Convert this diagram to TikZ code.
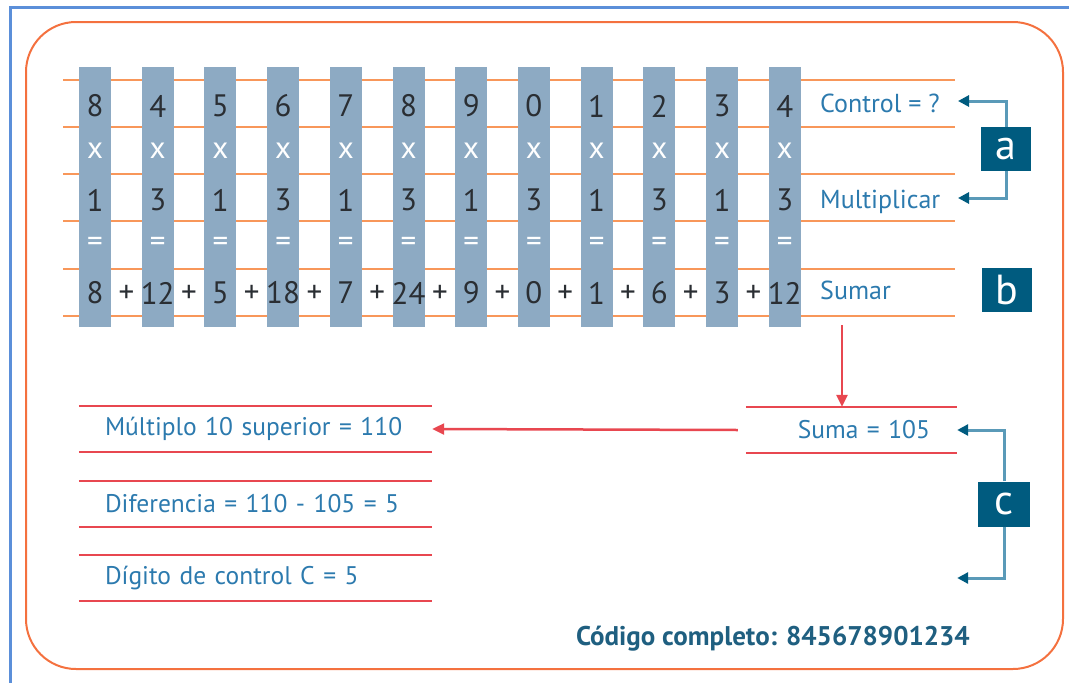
\documentclass[tikz,border=0pt]{standalone}
\usepackage{fontspec}
\setmainfont{PT Sans}
\usetikzlibrary{arrows.meta}

\definecolor{frameblue}{HTML}{5B8FD9}
\definecolor{boxorange}{HTML}{F4713F}
\definecolor{lineorange}{HTML}{F8975A}
\definecolor{barblue}{HTML}{8DAAC3}
\definecolor{darkteal}{HTML}{005B7F}
\definecolor{lightteal}{HTML}{5A9AB8}
\definecolor{labelblue}{HTML}{2C7AAE}
\definecolor{redline}{HTML}{E84750}
\definecolor{digitgray}{HTML}{2A2E33}
\definecolor{codeteal}{HTML}{1F5F80}

\begin{document}
\begin{tikzpicture}[x=1pt,y=-1pt]
        \tikzstyle{every node} = [rectangle, inner sep=0pt, font=\fontsize{26}{30}\selectfont]
        \tikzstyle{digitbar} = [fill=barblue, minimum width=32pt, minimum height=260pt]
        \tikzstyle{digit} = [text=digitgray, font=\fontsize{31}{32}\selectfont]
        \tikzstyle{whitesign} = [text=white, font=\fontsize{31}{32}\selectfont]
        \tikzstyle{rowlabel} = [text=labelblue, anchor=base west]
        \tikzstyle{letterbox} = [fill=darkteal, text=white, minimum width=50pt, minimum height=44pt, font=\fontsize{42}{42}\selectfont]
        \tikzstyle{rowbox} = [text=labelblue, minimum height=46pt, inner xsep=26pt, font=\fontsize{25.5}{30}\selectfont]
        \tikzstyle{tealarrow} = [draw=lightteal, line width=3pt, -{Triangle[length=11pt,width=11pt,color=darkteal]}]
        \tikzstyle{redarrow} = [draw=redline, line width=2.5pt, -{Triangle[length=12pt,width=11pt]}]
        \tikzstyle{redrule} = [draw=redline, line width=2.5pt]
        \useasboundingbox (0,0) rectangle (1069,683);

        % frame and outline
        \draw[frameblue, line width=3pt] (10,683) -- (10,7) -- (1069,7);
        \draw[boxorange, line width=2pt, rounded corners=50pt] (26,22) rectangle (1063,669);

        % ruled lines under the bars
        \foreach \y in {80,127,174,221,269,316}
            \draw[lineorange, line width=2pt] (63,\y) -- (955,\y);

        % digit bars
        \foreach \d/\m/\s [count=\i] in {8/1/8, 4/3/12, 5/1/5, 6/3/18, 7/1/7, 8/3/24, 9/1/9, 0/3/0, 1/1/1, 2/3/6, 3/1/3, 4/3/12} {
            \node[digitbar] (bar\i) at ({32.3+62.7*\i},197) {};
            \node[digit] (d\i) at (bar\i |- 0,106) {\d};
            \node[whitesign] (x\i) at (bar\i |- 0,151) {x};
            \node[digit] (m\i) at (bar\i |- 0,200) {\m};
            \node[whitesign] (e\i) at (bar\i |- 0,244) {=};
            \node[digit] (s\i) at (bar\i |- 0,293) {\s};
        }
        \foreach \i in {1,...,11}
            \node[digit] (p\i) at ({63.65+62.7*\i},294) {+};

        \node[rowlabel] (ctl) at (820,112) {Control = ?};
        \node[rowlabel] (mul) at (820,208) {Multiplicar};
        \node[rowlabel] (sum) at (820,299) {Sumar};

        \node[letterbox] (a) at (1006,149) {a};
        \node[letterbox] (b) at (1007,290) {b};
        \node[letterbox, minimum width=52pt, minimum height=45pt] (c) at (1004,504) {c};

        \coordinate (ctlin) at (958,101);
        \coordinate (mulin) at (958,198);
        \draw[tealarrow] (a.north) |- (ctlin);
        \draw[tealarrow] (a.south) |- (mulin);

        % sum and control digit
        \coordinate (drop) at (842,325);
        \node[rowbox, text width=157pt, inner xsep=27pt, align=right] (suma) at (851.5,430) {Suma = 105};
        \node[rowbox, text width=301pt, align=left] (mult) at (255.5,429) {Múltiplo 10 superior = 110};
        \node[rowbox, text width=301pt, align=left] (diff) at (255.5,504) {Diferencia = 110 - 105 = 5};
        \node[rowbox, text width=301pt, align=left] (digc) at (255.5,578) {Dígito de control C = 5};

        \foreach \n in {suma, mult, diff, digc} {
            \draw[redrule] (\n.north west) -- (\n.north east);
            \draw[redrule] (\n.south west) -- (\n.south east);
        }

        \draw[redarrow] (drop) -- (drop |- suma.north);
        \draw[redarrow] ([xshift=-8pt]suma.west) -- (mult.east);
        \draw[tealarrow] (c.north) |- (suma.east);
        \draw[tealarrow] (c.south) |- (suma.east |- digc);

        \node[text=codeteal, anchor=base east, font=\fontsize{27}{30}\selectfont\bfseries] (code) at (970,645) {Código completo: 845678901234};
\end{tikzpicture}
\end{document}
